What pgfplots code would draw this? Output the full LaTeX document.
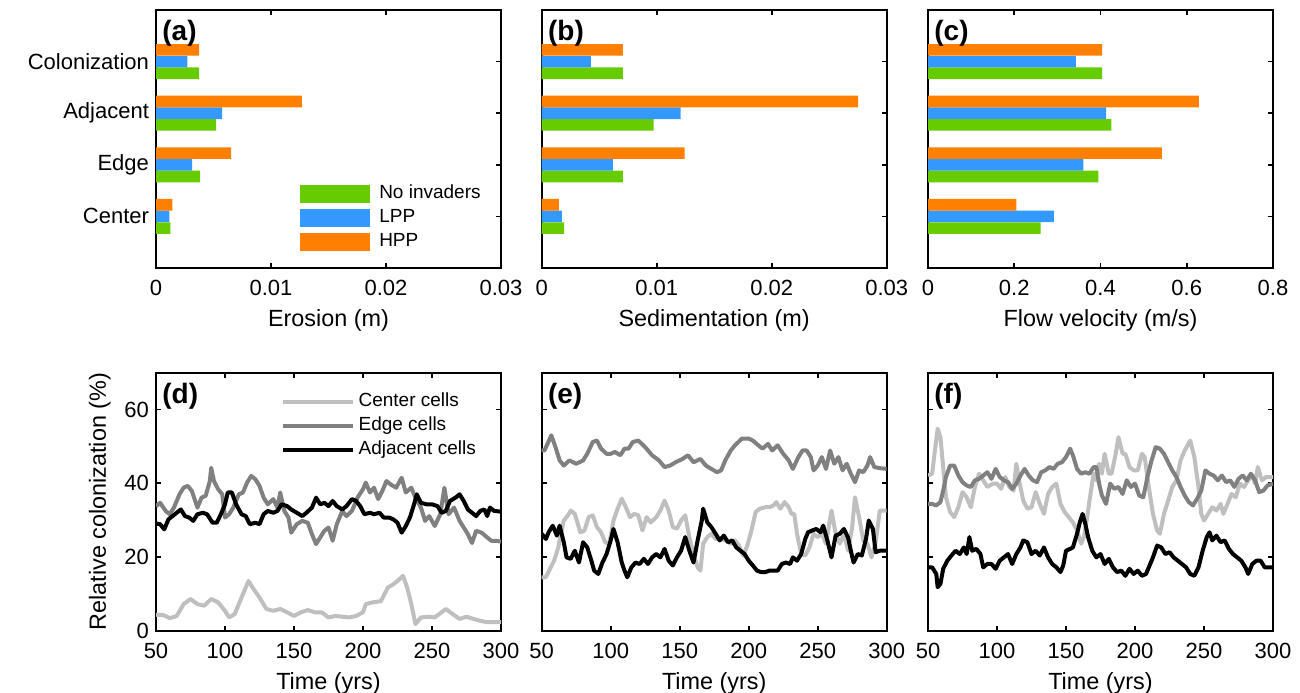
\documentclass[border=0pt]{standalone}
\usepackage{fontspec}
\setmainfont{Liberation Sans}
\usepackage{pgfplots}
\pgfplotsset{compat=1.18}

\definecolor{cgreen}{RGB}{102,204,0}
\definecolor{cblue}{RGB}{51,153,255}
\definecolor{corange}{RGB}{255,128,0}
\definecolor{ccenter}{RGB}{191,191,191}
\definecolor{cedge}{RGB}{128,128,128}

\pgfplotsset{
  panel/.style={
    scale only axis, width=172.5pt, height=129pt,
    anchor=south west,
    axis line style={line width=0.9pt},
    tick style={line width=0.8pt, black},
    major tick length=2.5pt,
    tick align=inside,
    /pgf/number format/assume math mode=true,
    tick label style={font=\fontsize{11}{13}\selectfont},
    label style={font=\fontsize{11.7}{14}\selectfont},
    xticklabel style={yshift=-2.5pt},
    scaled ticks=false,
  },
  barpanel/.style={panel,
    ymin=0, ymax=5, ytick={1,2,3,4},
  },
  linepanel/.style={panel,
    xmin=50, xmax=300, ymin=0, ymax=70,
    xtick={50,100,150,200,250,300}, ytick={0,20,40,60},
  },
  leg/.style={legend style={draw=none, fill=none,
    font=\fontsize{9.5}{11}\selectfont, row sep=0pt, inner sep=0pt,
    nodes={inner sep=1.5pt, text height=7pt, text depth=2pt},
    /tikz/every odd column/.append style={column sep=#1}},
    legend cell align=left},
  grn/.style={xbar, bar width=0.226, bar shift=-0.227, fill=cgreen, draw=none},
  blu/.style={xbar, bar width=0.226, bar shift=0, fill=cblue, draw=none},
  org/.style={xbar, bar width=0.226, bar shift=0.227, fill=corange, draw=none},
  cen/.style={ccenter, line width=2pt, line join=round},
  edg/.style={cedge, line width=2pt, line join=round},
  adj/.style={black, line width=2pt, line join=round},
}

\newcommand{\plabel}[1]{\node[anchor=north west, inner sep=0pt, xshift=3pt, yshift=-5pt,
  font=\fontsize{14}{14}\selectfont\bfseries] at (rel axis cs:0,1) {#1};}

\begin{document}
\begin{tikzpicture}

% (a) erosion
\begin{axis}[barpanel, at={(78pt,212pt)},
  xmin=0, xmax=0.03, xtick={0,0.01,0.02,0.03}, xticklabels={0,0.01,0.02,0.03},
  yticklabels={Center,Edge,Adjacent,Colonization},
  xlabel={Erosion (m)},
  leg=3pt, legend style={at={(0.417,0.335)}, anchor=north west},
]
\addplot[grn, legend image code/.code={\fill[cgreen] (0pt,-4.5pt) rectangle (35pt,4.5pt);}]
  coordinates {(0.00124,1) (0.00384,2) (0.00523,3) (0.00376,4)};
\addlegendentry{No invaders}
\addplot[blu, legend image code/.code={\fill[cblue] (0pt,-4.5pt) rectangle (35pt,4.5pt);}]
  coordinates {(0.00116,1) (0.00315,2) (0.00575,3) (0.00272,4)};
\addlegendentry{LPP}
\addplot[org, legend image code/.code={\fill[corange] (0pt,-4.5pt) rectangle (35pt,4.5pt);}]
  coordinates {(0.00142,1) (0.00653,2) (0.01269,3) (0.00376,4)};
\addlegendentry{HPP}
\plabel{(a)}
\end{axis}

% (b) sedimentation
\begin{axis}[barpanel, at={(270.85pt,212pt)},
  xmin=0, xmax=0.03, xtick={0,0.01,0.02,0.03}, xticklabels={0,0.01,0.02,0.03},
  yticklabels={},
  xlabel={Sedimentation (m)},
]
\addplot[grn] coordinates {(0.00194,1) (0.00705,2) (0.00974,3) (0.00705,4)};
\addplot[blu] coordinates {(0.00176,1) (0.00618,2) (0.01208,3) (0.00428,4)};
\addplot[org] coordinates {(0.00150,1) (0.01243,2) (0.02751,3) (0.00705,4)};
\plabel{(b)}
\end{axis}

% (c) flow velocity
\begin{axis}[barpanel, at={(464pt,212pt)},
  xmin=0, xmax=0.8, xtick={0,0.2,0.4,0.6,0.8}, xticklabels={0,0.2,0.4,0.6,0.8},
  yticklabels={},
  xlabel={Flow velocity (m/s)},
]
\addplot[grn] coordinates {(0.261,1) (0.395,2) (0.425,3) (0.404,4)};
\addplot[blu] coordinates {(0.292,1) (0.360,2) (0.413,3) (0.343,4)};
\addplot[org] coordinates {(0.205,1) (0.542,2) (0.628,3) (0.404,4)};
\plabel{(c)}
\end{axis}

% (d)
\begin{axis}[linepanel, at={(78pt,30.65pt)},
  xlabel={Time (yrs)}, ylabel={Relative colonization (\%)},
  leg=0.5pt, legend style={at={(0.36,0.935)}, anchor=north west},
  legend image code/.code={\draw[#1] (0pt,0pt) -- (35pt,0pt);},
]
\addplot[cen] coordinates {
(50,4.3)(55,4.3)(60,3.4)(65,4.0)(70,7.2)(75,8.6)(80,7.2)(85,6.8)(90,8.6)(95,7.7)
(100,5.4)(103,3.6)(107,4.5)(112,9.0)(117,13.5)(120,11.7)(125,9.0)(130,5.9)(135,5.4)
(140,5.9)(145,5.0)(150,4.0)(155,5.0)(160,5.6)(165,5.0)(170,5.0)(175,3.6)(180,4.0)
(185,3.8)(190,3.6)(195,4.0)(200,5.0)(202,7.2)(207,7.7)(213,8.0)(218,11.7)(222,12.6)
(225,13.5)(229,14.9)(232,11.7)(235,7.2)(238,1.8)(242,3.6)(248,3.8)(252,3.6)(257,5.0)
(260,5.9)(265,4.5)(270,3.2)(275,3.8)(280,3.2)(285,2.7)(290,2.3)(295,2.3)(300,2.3)};
\addlegendentry{Center cells}
\addplot[edg] coordinates {
(50,33.8)(53,34.7)(57,32.5)(60,31.6)(63,33.4)(67,37.0)(70,38.8)(73,39.3)(76,37.9)
(80,33.4)(83,36.1)(86,36.6)(89,40.6)(90,44.2)(92,40.6)(95,38.4)(98,37.0)(100,30.7)
(103,31.6)(106,33.4)(110,37.0)(113,37.5)(116,40.2)(119,42.0)(122,41.1)(125,39.3)
(128,36.1)(131,34.3)(135,35.7)(138,33.4)(140,37.5)(143,32.5)(146,30.7)(148,26.6)
(152,28.9)(156,29.8)(160,29.3)(163,26.2)(166,23.5)(169,25.3)(172,27.1)(175,28.0)
(178,24.4)(181,28.9)(185,32.5)(188,31.1)(192,32.5)(196,36.1)(200,38.4)(202,40.2)
(205,37.5)(208,38.8)(211,35.7)(214,37.9)(217,40.6)(220,39.7)(224,38.8)(228,41.5)
(231,37.5)(235,38.8)(238,36.1)(242,33.4)(245,29.8)(248,31.1)(252,28.4)(256,31.6)
(259,38.8)(262,31.6)(266,33.4)(270,29.8)(273,28.0)(276,26.2)(279,23.8)(282,27.1)
(286,26.6)(290,25.3)(293,24.4)(296,24.4)(300,24.2)};
\addlegendentry{Edge cells}
\addplot[adj] coordinates {
(50,29.1)(53,28.9)(56,27.5)(59,30.2)(62,31.1)(65,32.0)(68,32.9)(71,31.1)(74,30.7)
(77,29.8)(80,31.6)(84,32.0)(87,31.6)(91,29.3)(94,29.3)(97,31.6)(100,34.3)(102,37.5)
(105,37.5)(108,34.3)(112,31.6)(115,31.1)(118,28.9)(122,29.3)(125,28.9)(128,31.6)
(131,32.5)(135,32.0)(138,32.5)(141,34.3)(145,33.8)(148,32.9)(152,32.0)(156,31.1)
(159,32.0)(163,33.4)(166,36.1)(169,34.3)(172,34.7)(175,33.8)(178,35.2)(181,33.8)
(185,32.9)(188,33.8)(192,35.7)(195,35.2)(198,33.8)(201,31.6)(205,32.0)(208,31.6)
(212,32.0)(215,30.7)(219,30.7)(222,30.2)(225,29.3)(228,26.6)(231,28.4)(234,30.7)
(237,34.3)(239,37.0)(242,34.7)(246,34.3)(250,34.3)(254,33.8)(257,32.0)(260,32.5)
(263,35.2)(267,36.1)(270,37.0)(273,35.2)(276,32.9)(279,32.0)(282,31.1)(285,32.5)
(288,32.9)(290,31.1)(292,33.4)(295,32.5)(300,32.3)};
\addlegendentry{Adjacent cells}
\plabel{(d)}
\end{axis}

% (e)
\begin{axis}[linepanel, at={(270.85pt,30.65pt)},
  xlabel={Time (yrs)}, yticklabels={},
]
\addplot[cen] coordinates {
(50,14.5)(53,14.5)(56,16.8)(59,19.0)(62,22.6)(64,26.3)(66,29.9)(69,31.3)(71,32.6)
(74,31.7)(78,26.7)(81,27.2)(84,30.8)(87,31.3)(90,28.1)(93,26.7)(96,24.0)(99,23.6)
(102,29.9)(105,33.1)(108,35.8)(111,33.5)(114,30.8)(117,31.7)(120,31.3)(123,27.2)
(126,30.8)(129,29.4)(133,30.8)(136,32.6)(139,35.3)(142,32.6)(145,28.1)(148,27.7)
(151,29.9)(154,31.3)(157,25.4)(160,20.8)(163,17.2)(165,16.3)(167,23.6)(170,25.4)
(173,26.3)(176,24.9)(180,24.9)(183,24.5)(187,23.6)(190,24.5)(193,23.1)(196,20.4)
(199,23.1)(202,27.2)(205,32.2)(208,33.1)(212,33.5)(215,33.5)(218,34.0)(220,34.9)
(223,33.1)(226,34.9)(229,33.5)(231,31.7)(233,31.7)(235,26.3)(238,20.8)(241,20.4)
(244,22.6)(247,26.3)(250,25.4)(253,26.3)(256,23.6)(258,28.1)(260,32.6)(263,26.3)
(266,23.6)(269,26.3)(272,21.7)(275,28.1)(277,36.2)(280,30.8)(283,24.5)(286,23.6)
(289,19.9)(292,24.0)(295,32.6)(300,32.6)};
\addplot[edg] coordinates {
(50,48.9)(52,48.9)(57,53.0)(60,49.8)(63,46.2)(66,44.8)(70,46.2)(75,45.3)(80,46.2)
(83,48.0)(87,51.2)(90,51.6)(93,49.4)(97,48.0)(100,48.0)(103,48.5)(107,47.6)(110,49.4)
(113,49.4)(116,51.2)(120,51.6)(125,49.8)(130,47.6)(135,46.2)(139,44.4)(143,44.8)
(147,45.7)(152,46.6)(156,47.6)(160,45.7)(165,46.6)(169,44.8)(173,43.9)(177,43.0)
(180,43.5)(183,46.2)(187,48.9)(190,50.3)(195,52.1)(200,52.1)(203,51.6)(207,50.3)
(210,49.4)(214,50.7)(217,48.9)(221,50.3)(225,48.0)(229,46.2)(232,43.9)(236,47.1)
(239,48.9)(242,48.9)(245,47.1)(247,43.5)(250,44.8)(253,47.1)(256,43.9)(259,48.9)
(262,45.3)(265,47.1)(268,43.5)(271,45.3)(274,42.6)(277,40.3)(280,43.5)(283,43.0)
(286,44.8)(288,47.1)(291,44.4)(295,44.1)(300,43.9)};
\addplot[adj] coordinates {
(50,26.3)(53,24.9)(55,26.7)(58,28.5)(61,25.8)(63,28.5)(66,24.0)(68,19.9)(71,19.5)
(74,21.7)(77,18.5)(80,24.0)(83,22.6)(86,19.0)(88,16.3)(91,15.4)(94,18.5)(97,20.8)
(100,24.5)(102,27.6)(105,24.0)(108,18.5)(110,16.3)(112,14.5)(115,17.2)(118,18.5)
(121,18.1)(124,19.5)(127,18.1)(130,19.9)(133,20.8)(136,19.9)(139,22.2)(142,19.0)
(145,17.7)(148,19.9)(151,21.7)(154,25.4)(157,21.7)(160,18.5)(163,24.5)(166,29.9)
(167,33.1)(170,29.4)(173,28.1)(176,26.3)(179,24.5)(182,25.8)(185,24.0)(188,24.5)
(191,22.6)(194,21.7)(197,20.8)(200,19.0)(203,17.7)(206,16.3)(209,15.9)(212,15.9)
(215,16.3)(218,16.3)(221,16.3)(224,18.1)(227,18.5)(230,18.1)(232,19.9)(235,19.0)
(238,20.8)(241,24.9)(243,26.7)(246,27.2)(249,27.6)(252,26.7)(254,28.5)(257,24.5)
(260,19.9)(263,25.8)(266,26.3)(269,27.6)(272,25.3)(274,21.7)(276,18.5)(279,20.8)
(282,20.4)(285,24.9)(287,29.9)(290,27.6)(292,21.3)(295,21.7)(300,21.7)};
\plabel{(e)}
\end{axis}

% (f)
\begin{axis}[linepanel, at={(464pt,30.65pt)},
  xlabel={Time (yrs)}, yticklabels={},
]
\addplot[cen] coordinates {
(50,42.1)(53,42.6)(55,48.9)(57,54.8)(59,52.5)(61,44.4)(63,36.2)(66,32.2)(69,30.8)
(72,33.5)(75,37.6)(78,36.2)(81,33.5)(84,39.0)(87,42.6)(90,40.8)(93,39.0)(97,39.9)
(100,39.9)(103,38.5)(106,41.7)(109,39.0)(112,38.0)(114,45.3)(116,40.8)(119,35.3)
(122,33.1)(125,33.5)(128,37.6)(131,34.4)(134,31.7)(137,37.1)(140,39.0)(143,39.9)
(146,34.4)(149,32.2)(152,30.8)(155,29.4)(158,27.2)(161,23.6)(163,25.4)(165,29.9)
(167,35.3)(170,42.6)(172,40.8)(174,45.3)(176,42.6)(178,48.0)(181,42.6)(183,42.6)
(186,48.0)(188,52.5)(191,48.0)(193,48.0)(196,44.4)(199,43.5)(202,43.5)(205,48.0)
(207,47.1)(210,39.0)(213,31.7)(216,27.2)(218,26.3)(221,31.7)(224,35.3)(227,39.0)
(230,40.8)(233,46.2)(236,48.9)(240,51.6)(243,47.1)(246,39.0)(248,31.7)(250,29.9)
(253,31.7)(256,33.5)(259,32.6)(262,34.4)(264,31.7)(267,34.4)(270,37.1)(273,36.2)
(276,39.9)(279,39.0)(282,40.8)(285,42.1)(287,39.9)(289,44.4)(292,40.8)(295,41.7)
(300,41.7)};
\addplot[edg] coordinates {
(50,34.4)(53,34.4)(56,34.0)(59,34.9)(61,38.0)(63,41.7)(66,44.8)(69,44.8)(72,42.1)
(75,40.3)(78,39.4)(81,39.0)(84,40.8)(87,41.2)(90,42.1)(93,43.0)(96,41.2)(99,43.9)
(102,41.7)(105,40.8)(108,40.3)(111,38.5)(114,39.9)(117,42.1)(120,43.9)(123,42.1)
(126,40.8)(129,40.3)(132,43.0)(135,43.5)(138,44.4)(141,43.9)(144,45.3)(147,45.7)
(150,47.1)(153,49.4)(155,47.6)(158,43.9)(161,42.6)(164,43.0)(167,42.6)(170,44.4)
(172,44.4)(174,39.9)(176,36.7)(179,34.4)(182,39.9)(185,38.5)(188,39.0)(191,37.1)
(194,40.8)(197,39.0)(200,39.9)(203,36.7)(206,36.2)(209,41.7)(212,46.2)(215,49.8)
(218,49.4)(221,48.0)(224,45.7)(227,43.5)(230,41.7)(233,39.0)(236,36.7)(239,34.9)
(242,34.0)(245,35.8)(248,38.0)(251,43.5)(254,42.6)(257,42.1)(260,40.8)(263,42.1)
(266,40.3)(269,40.8)(272,39.0)(275,41.2)(278,42.1)(281,40.8)(284,42.6)(287,40.8)
(290,37.6)(293,38.0)(296,39.4)(300,39.9)};
\addplot[adj] coordinates {
(50,17.2)(53,17.2)(56,15.4)(57,11.8)(59,12.7)(61,16.8)(64,19.0)(67,20.4)(70,21.7)
(73,20.8)(76,22.6)(78,20.8)(80,25.4)(82,21.7)(85,22.2)(88,20.8)(90,17.2)(93,18.1)
(96,18.1)(99,16.8)(102,19.0)(105,19.9)(108,20.8)(111,18.1)(114,20.8)(117,22.6)
(119,24.5)(122,24.0)(125,20.8)(128,21.7)(131,20.4)(134,22.6)(137,19.9)(140,18.1)
(143,17.2)(146,15.9)(148,17.7)(150,21.7)(153,22.2)(155,22.6)(158,26.3)(160,29.4)
(162,31.7)(164,29.0)(166,25.4)(169,21.7)(172,19.9)(175,20.8)(178,18.1)(181,19.5)
(184,17.2)(187,15.9)(190,16.3)(193,14.9)(196,16.8)(199,15.4)(202,16.3)(205,14.9)
(208,15.4)(210,17.2)(213,19.9)(216,23.1)(219,22.6)(222,20.8)(225,21.3)(228,19.9)
(231,19.0)(234,18.1)(237,17.2)(240,15.4)(243,14.9)(246,17.2)(249,21.7)(252,25.4)
(254,26.7)(256,24.5)(259,25.8)(262,24.0)(265,24.5)(268,22.2)(271,20.8)(274,19.9)
(277,19.0)(280,17.2)(282,15.4)(285,18.1)(288,19.0)(291,19.0)(294,17.2)(300,17.2)};
\plabel{(f)}
\end{axis}

\pgfresetboundingbox
\path[use as bounding box] (0pt,0pt) rectangle (650pt,346pt);
\end{tikzpicture}
\end{document}
